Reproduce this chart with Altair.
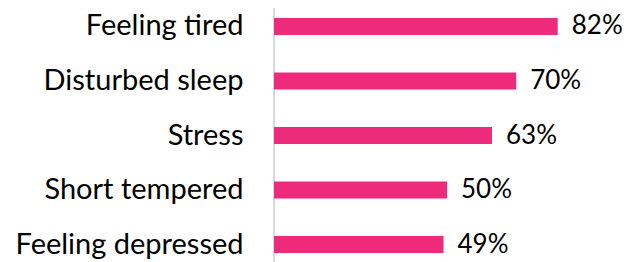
import altair as alt
import pandas as pd

categories = ["Feeling tired", "Disturbed sleep", "Stress", "Short tempered", "Feeling depressed"]
values = [82, 70, 63, 50, 49]
labels = ["82%", "70%", "63%", "50%", "49%"]

df = pd.DataFrame({"cat": categories, "val": values, "lab": labels})

FONT = "Lato"
y = alt.Y("cat:N", sort=categories, title=None,
          scale=alt.Scale(paddingInner=0.69, paddingOuter=0),
          axis=alt.Axis(labelFontSize=29, labelFont=FONT, labelColor="#000000",
                        ticks=False, labelPadding=31, labelLimit=400,
                        domain=False, grid=False))
x = alt.X("val:Q", scale=alt.Scale(domain=[0, 100]), axis=None)

axis_line = alt.Chart(df).mark_rule(color="#D9D9D9", strokeWidth=1.5).encode(
    x=alt.value(0), y=alt.value(-10), y2=alt.value(250))
bars = alt.Chart(df).mark_bar(color="#EE2A7B").encode(x=x, y=y)
text = alt.Chart(df).mark_text(align="left", baseline="middle", dx=14, fontSize=26,
                               font=FONT, color="#000000").encode(x=x, y=y, text="lab:N")

chart = (axis_line + bars + text).properties(
    width=346, height=235,
    autosize=alt.AutoSizeParams(type="none"),
    padding={"left": 266, "top": 10, "right": 4, "bottom": 14},
).configure_view(stroke=None)

chart.save("out.html", embed_options={"renderer": "svg", "actions": False})
